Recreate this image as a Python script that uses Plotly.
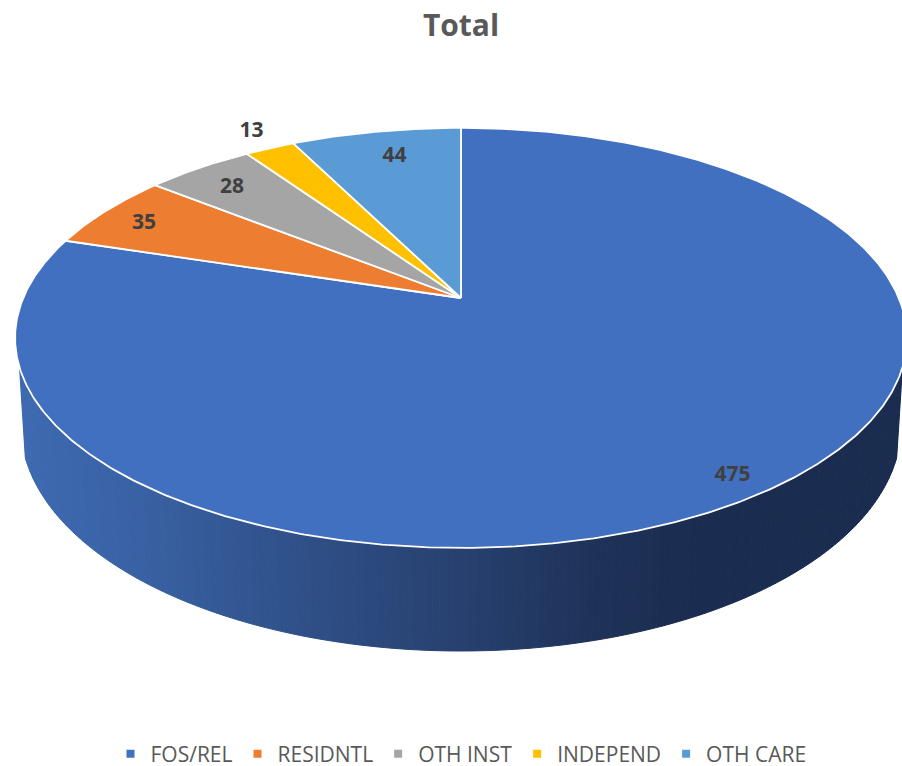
import numpy as np
import plotly.graph_objects as go

categories = ["FOS/REL", "RESIDNTL", "OTH INST", "INDEPEND", "OTH CARE"]
values = [475, 35, 28, 13, 44]
colors = ["#4270C0", "#ED7D31", "#A5A5A5", "#FFC000", "#5B9BD5"]
label_radius = [0.89, 0.89, 0.87, 1.10, 0.84]
label_shift_x = [-1, -1, -1, 1, 5]
label_shift_y = [6, 3, 3, -1, -2]

W, H = 902, 766
APEX_X, APEX_Y = 461, 298
PERSP, AX, AY = 0.19, 437.8, 202.4


def project(theta):
    """Pie angle (clockwise from 12 o'clock) -> tilted-perspective pixel offset."""
    u, v = np.sin(theta), np.cos(theta)
    d = 1 + PERSP * v
    return AX * u / d, AY * v / d


def wall_colour(x):
    stops = [15, 120, 300, 461, 600, 700, 902]
    r = [62, 58, 47, 39, 30, 26, 26]
    g = [106, 99, 80, 64, 50, 44, 44]
    b = [177, 166, 136, 111, 88, 79, 79]
    return f"rgb({np.interp(x, stops, r):.0f},{np.interp(x, stops, g):.0f},{np.interp(x, stops, b):.0f})"


fig = go.Figure()

# Side wall: vertical strips between the top rim and the lower rim
edges = np.linspace(0.14, np.pi - 0.14, 181)
for t0, t1 in zip(edges[:-1], edges[1:]):
    ts = np.array([t0, t1])
    xt = 461 + 446 * np.cos(ts)
    yt = 338 + 210 * np.sin(ts)
    xb = 461 + 440 * np.cos(ts)
    yb = 426 + 225 * np.sin(ts)
    col = wall_colour(xt.mean())
    fig.add_trace(go.Scatter(
        x=[xt[0], xt[1], xb[1], xb[0], xt[0]],
        y=[yt[0] - 2, yt[1] - 2, yb[1], yb[0], yt[0] - 2],
        mode="lines", fill="toself", fillcolor=col,
        line=dict(color=col, width=1), hoverinfo="skip", showlegend=False))

# Top face
total = sum(values)
cum = np.concatenate([[0], np.cumsum(values)]) / total * 2 * np.pi
for i, name in enumerate(categories):
    th = np.linspace(cum[i], cum[i + 1], max(4, int(values[i] * 1.2)))
    dx, dy = project(th)
    fig.add_trace(go.Scatter(
        x=np.concatenate([[APEX_X], APEX_X + dx, [APEX_X]]),
        y=np.concatenate([[APEX_Y], APEX_Y - dy, [APEX_Y]]),
        mode="lines", fill="toself", fillcolor=colors[i],
        line=dict(color="white", width=1.8), hoverinfo="skip", showlegend=False))

# Data labels
for i, v in enumerate(values):
    mid = (cum[i] + cum[i + 1]) / 2
    dx, dy = project(np.array([mid]))
    fig.add_trace(go.Scatter(
        x=APEX_X + dx * label_radius[i] + label_shift_x[i],
        y=APEX_Y - dy * label_radius[i] + label_shift_y[i],
        mode="text", text=[str(v)], textposition="middle center",
        textfont=dict(family="Open Sans", size=21, color="#404040", weight="bold"),
        hoverinfo="skip", showlegend=False))

# Legend entries
for name, c in zip(categories, colors):
    fig.add_trace(go.Scatter(
        x=[None], y=[None], mode="markers", name=name,
        marker=dict(symbol="square", size=8, color=c)))

fig.update_layout(
    width=W, height=H, margin=dict(l=0, r=0, t=0, b=0, autoexpand=False),
    paper_bgcolor="white", plot_bgcolor="white",
    title=dict(text="<b>Total</b>", x=461 / W, xanchor="center", y=1 - 25 / H, yanchor="middle",
               font=dict(family="Open Sans", size=30, color="#595959")),
    xaxis=dict(range=[0, W], visible=False, fixedrange=True),
    yaxis=dict(range=[H, 0], visible=False, fixedrange=True),
    legend=dict(orientation="h", x=461 / W, xanchor="center", y=1 - 754 / H, yanchor="middle",
                font=dict(family="Open Sans", size=21, color="#595959"),
                itemwidth=30, bgcolor="rgba(0,0,0,0)"),
    showlegend=True,
)

fig.write_html("out.html", config={"displayModeBar": False},
               post_script="document.body.style.margin='0';document.documentElement.style.overflow='hidden';")
